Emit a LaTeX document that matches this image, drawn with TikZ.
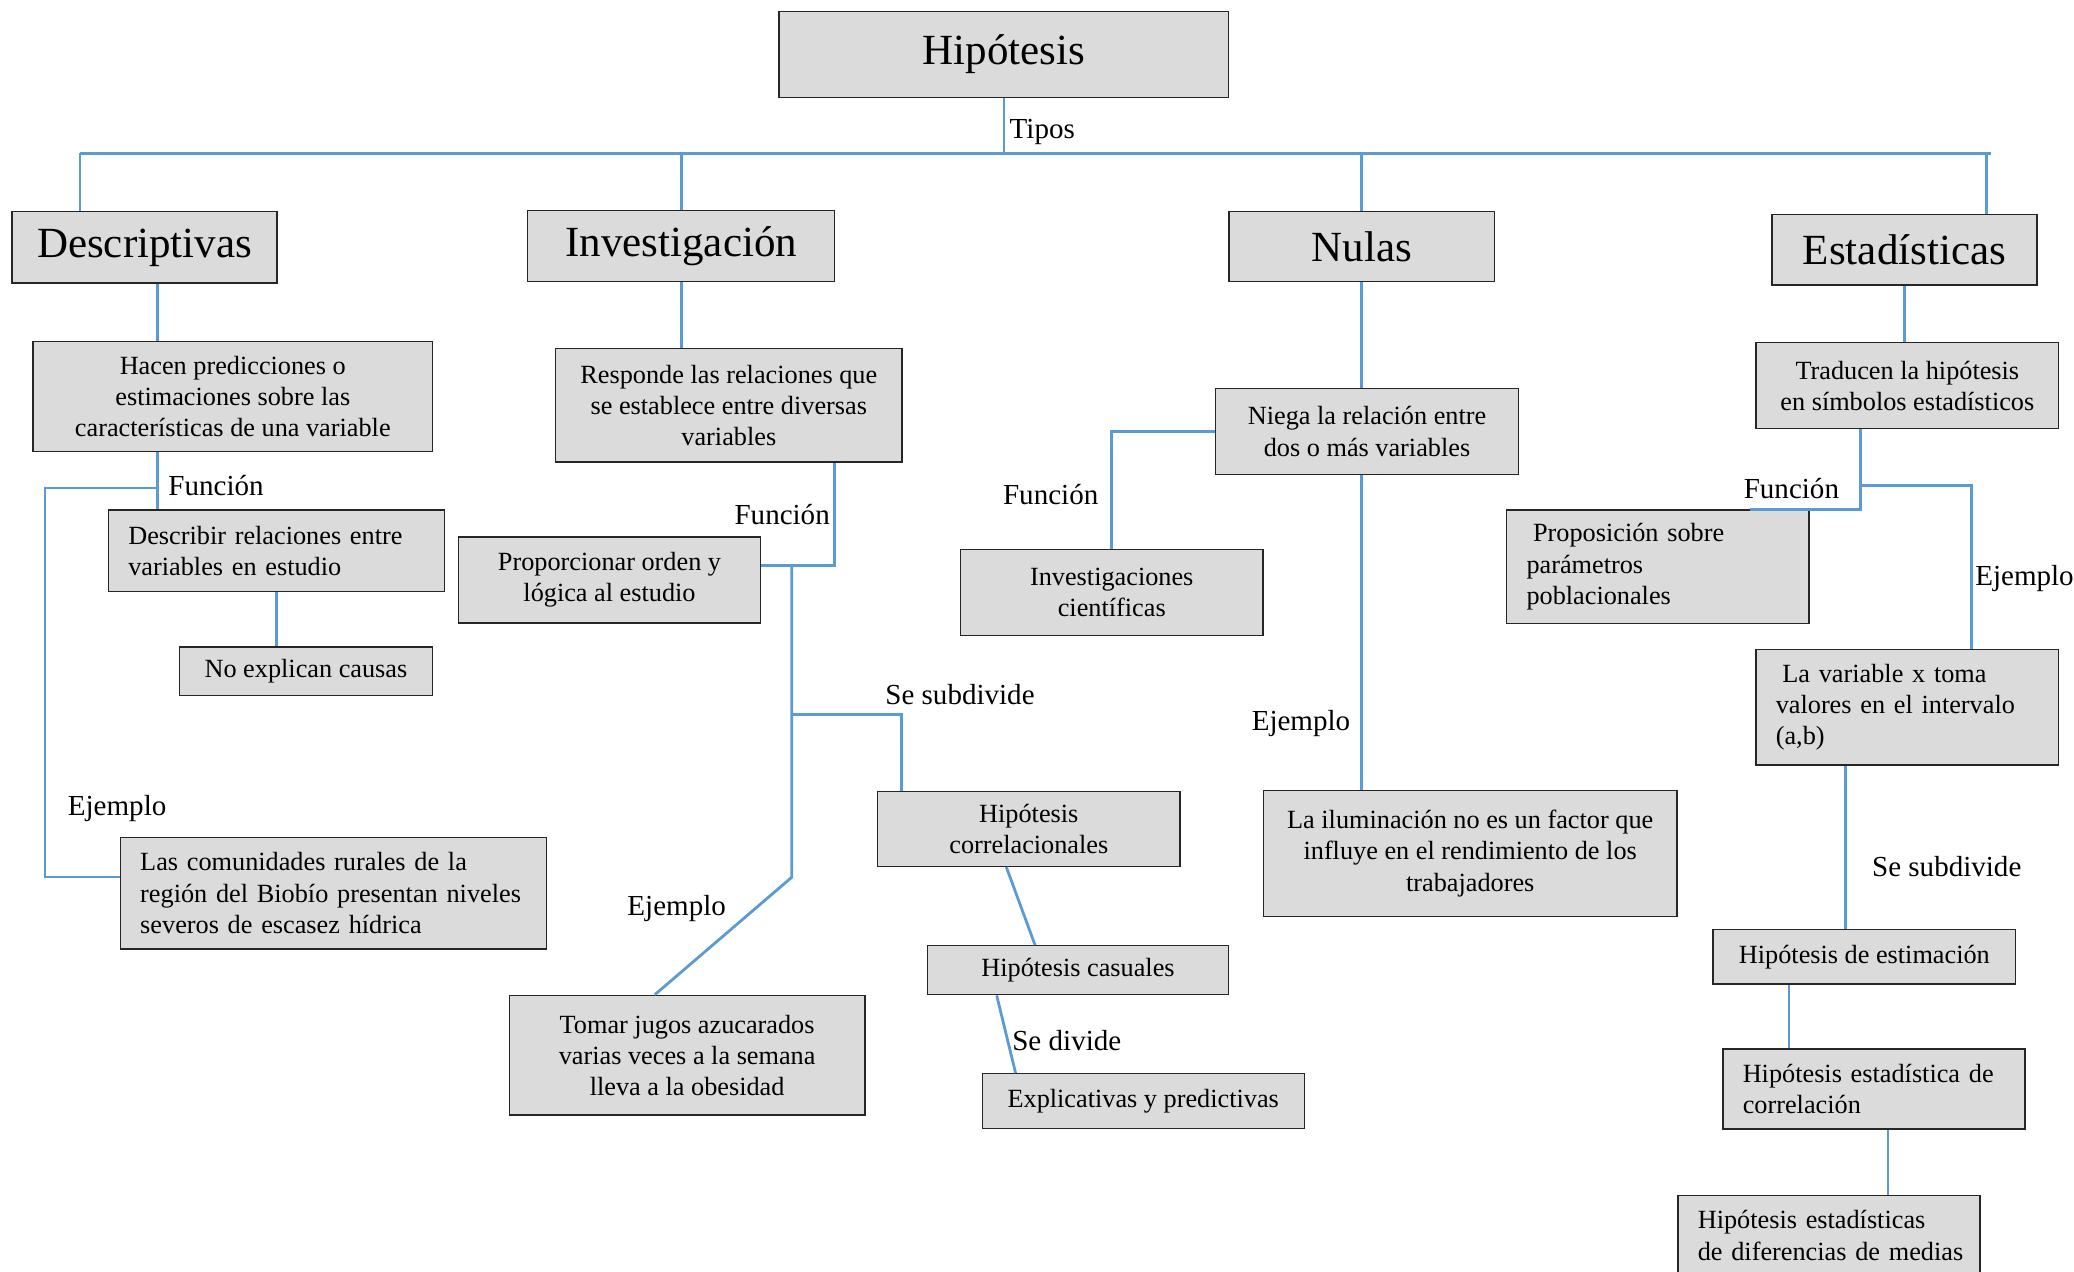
\documentclass[tikz,border=0pt]{standalone}
\usepackage{fontspec}
\setmainfont{Liberation Serif}
\usepackage{xcolor}
\definecolor{myblue}{RGB}{91,155,213}
\definecolor{mygray}{RGB}{219,219,219}
\usepackage{tikz}
\usetikzlibrary{positioning}
\usetikzlibrary{calc}

\begin{document}
\begin{tikzpicture}[x=0.02cm,y=-0.02cm,
  hnode/.style={draw=black!85,fill=mygray,line width=0.6pt,inner sep=0pt,font=\fontsize{18.5}{22}\selectfont},
  cnode/.style={draw=black!85,fill=mygray,line width=0.6pt,inner sep=0pt,align=center,font=\fontsize{11.3}{13.4}\selectfont},
  lcnode/.style={cnode,align=left,inner xsep=0.3cm},
  lnode/.style={inner sep=0pt,anchor=west,font=\fontsize{12.5}{15}\selectfont},
  link/.style={myblue,line width=1.2pt}]

\useasboundingbox (0,0) rectangle (1568,961);
\clip (0,0) rectangle (1568,961);

\node[hnode,minimum width=6.8cm,minimum height=1.3cm] (hip) at (759,41) {\raisebox{0.12cm}{Hipótesis}};
\node[hnode,minimum width=4.01cm,minimum height=1.08cm] (desc) at (109.3,187) {Descriptivas};
\node[hnode,minimum width=4.64cm,minimum height=1.07cm] (inv) at (515,186) {Investigación};
\node[hnode,minimum width=4.02cm,minimum height=1.06cm] (nul) at (1029.5,186.5) {Nulas};
\node[hnode,minimum width=4.01cm,minimum height=1.07cm] (est) at (1439.8,188.7) {Estadísticas};

\node[cnode,minimum width=6.04cm,minimum height=1.67cm] (hacen) at (176,299.8) {Hacen predicciones o\\estimaciones sobre las\\características de una variable};
\node[cnode,minimum width=5.24cm,minimum height=1.72cm] (resp) at (551,306.4) {Responde las relaciones que\\se establece entre diversas\\variables};
\node[cnode,minimum width=4.58cm,minimum height=1.3cm] (niega) at (1033.5,326.2) {Niega la relación entre\\dos o más variables};
\node[cnode,minimum width=4.58cm,minimum height=1.3cm] (trad) at (1442,291.5) {Traducen la hipótesis\\en símbolos estadísticos};

\node[lcnode,text width=4.48cm,minimum height=1.23cm] (descr) at (209,416.4) {Describir relaciones entre\\variables en estudio};
\node[cnode,minimum width=3.83cm,minimum height=0.74cm] (noexp) at (231.3,507.5) {No explican causas};
\node[lcnode,text width=5.84cm,minimum height=1.69cm] (comun) at (252,675.2) {Las comunidades rurales de la\\\mbox{región del Biobío presentan niveles}\\severos de escasez hídrica};

\node[cnode,minimum width=4.57cm,minimum height=1.3cm] (prop) at (460.8,438.5) {Proporcionar orden y\\lógica al estudio};
\node[cnode,minimum width=5.38cm,minimum height=1.81cm] (tomar) at (519.5,797.8) {Tomar jugos azucarados\\varias veces a la semana\\lleva a la obesidad};
\node[cnode,minimum width=4.57cm,minimum height=1.13cm] (corr) at (777.8,626.7) {Hipótesis\\correlacionales};
\node[cnode,minimum width=4.56cm,minimum height=0.74cm] (caus) at (815,733.5) {Hipótesis casuales};
\node[cnode,minimum width=4.87cm,minimum height=0.83cm] (expl) at (864.3,832.5) {Explicativas y predictivas};

\node[cnode,minimum width=4.58cm,minimum height=1.3cm] (invc) at (840.5,448.1) {Investigaciones\\científicas};
\node[cnode,minimum width=6.26cm,minimum height=1.9cm] (ilum) at (1111.5,645.2) {La iluminación no es un factor que\\influye en el rendimiento de los\\trabajadores};

\node[lcnode,text width=3.97cm,minimum height=1.72cm] (propo) at (1253.3,428.5) {\hspace{0.1cm}Proposición sobre\\parámetros\\poblacionales};
\node[lcnode,text width=3.98cm,minimum height=1.75cm] (lavar) at (1442,534.7) {\hspace{0.1cm}La variable x toma\\\mbox{valores en el intervalo}\\(a,b)};
\node[cnode,minimum width=4.58cm,minimum height=0.83cm] (estim) at (1409.5,723.3) {Hipótesis de estimación};
\node[lcnode,text width=3.97cm,minimum height=1.21cm] (ecorr) at (1416.8,823.2) {\mbox{Hipótesis estadística de}\\correlación};
\node[lcnode,text width=3.97cm,minimum height=1.21cm] (difm) at (1382.8,934) {Hipótesis estadísticas\\\mbox{de diferencias de medias}};

\node[lnode] (tipos) at (763,100) {Tipos};
\node[lnode] (fun1) at (127,367) {Función};
\node[lnode] (fun2) at (555,389) {Función};
\node[lnode] (sub1) at (669,525) {Se subdivide};
\node[lnode] (ej1) at (51,611) {Ejemplo};
\node[lnode] (ej2) at (474,687) {Ejemplo};
\node[lnode] (div) at (765,787) {Se divide};
\node[lnode] (fun3) at (758,374) {Función};
\node[lnode] (ej3) at (946,547) {Ejemplo};
\node[lnode] (fun4) at (1318,369) {Función};
\node[lnode] (ej4) at (1493,437) {Ejemplo};
\node[lnode] (sub2) at (1415,655) {Se subdivide};

\coordinate (bl) at (60.5,116);
\coordinate (br) at (1505.5,116);
\draw[link] (hip.south) -- (hip.south |- bl);
\draw[link] (bl) -- (br);
\draw[link] (bl) -- (bl |- desc.north);
\draw[link] (inv.north) -- (inv.north |- bl);
\draw[link] (nul.north) -- (nul.north |- bl);
\draw[link] ([xshift=1.24cm]est.north) -- ([xshift=1.24cm]est.north |- bl);

\coordinate (fd) at (119,369);
\coordinate (ed) at (34,663);
\draw[link] (desc.south -| fd) -- (hacen.north -| fd);
\draw[link] (hacen.south -| fd) -- (descr.north -| fd);
\draw[link] (fd) -| (ed) -- (ed -| comun.west);
\draw[link] (descr.south) -- (descr.south |- noexp.north);

\coordinate (fi) at (631,427.4);
\coordinate (si) at (598.5,540);
\coordinate (ei) at (598.5,663.3);
\draw[link] (inv.south) -- (inv.south |- resp.north);
\draw[link] (resp.south -| fi) -- (fi) -- (fi -| prop.east);
\draw[link] (fi -| si) -- (ei) -- ([xshift=-0.49cm]tomar.north);
\draw[link] (si) -| ([xshift=0.37cm]corr.north west);
\draw[link] ([xshift=-0.34cm]corr.south) -- ([xshift=-0.65cm]caus.north);
\draw[link] ([xshift=-1.23cm]caus.south) -- ([xshift=-1.93cm]expl.north);

\draw[link] (nul.south) -- (nul.south |- niega.north);
\draw[link] (niega.west) -| (invc.north);
\draw[link] (niega.south -| nul.south) -- (ilum.north -| nul.south);

\coordinate (fe) at (1406.5,367.2);
\draw[link] (est.south) -- (est.south |- trad.north);
\draw[link] (trad.south -| fe) -- (fe |- propo.north) -- ([xshift=-0.9cm]propo.north east);
\draw[link] (fe) -| ([xshift=0.97cm]lavar.north);
\draw[link] ([xshift=-0.94cm]lavar.south) -- ([xshift=-0.94cm]lavar.south |- estim.north);
\draw[link] ([xshift=-1.14cm]estim.south) -- ([xshift=-1.14cm]estim.south |- ecorr.north);
\draw[link] ([xshift=0.21cm]ecorr.south) -- ([xshift=0.21cm]ecorr.south |- difm.north);
\end{tikzpicture}
\end{document}
